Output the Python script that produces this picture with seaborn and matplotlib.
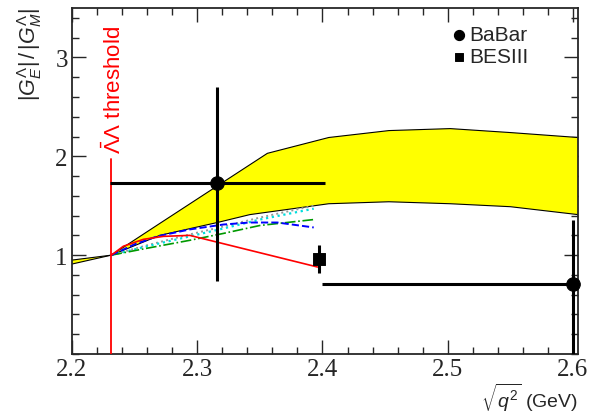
import numpy as np
import pandas as pd
import seaborn as sns
import matplotlib.pyplot as plt
from matplotlib.ticker import MultipleLocator

# threshold 2 m_Lambda
threshold = 2.2314

# yellow band (model prediction)
band_x_up = [2.2, 2.2314, 2.27, 2.316, 2.356, 2.405, 2.453, 2.502, 2.55, 2.604]
band_up = [0.95, 1.0, 1.32, 1.70, 2.03, 2.19, 2.26, 2.28, 2.24, 2.19]
band_x_lo = [2.2, 2.2314, 2.27, 2.316, 2.342, 2.405, 2.453, 2.502, 2.55, 2.604]
band_lo = [0.91, 1.0, 1.20, 1.33, 1.41, 1.52, 1.54, 1.52, 1.49, 1.41]

# other model curves
red_x = [2.2314, 2.241, 2.257, 2.273, 2.294, 2.396]
red_y = [1.0, 1.09, 1.16, 1.19, 1.20, 0.88]
blue_x = [2.2314, 2.25, 2.268, 2.294, 2.321, 2.342, 2.364, 2.393]
blue_y = [1.0, 1.11, 1.19, 1.26, 1.31, 1.33, 1.33, 1.28]
curve_x = [2.2314, 2.26, 2.294, 2.321, 2.35, 2.393]
green_y = [1.0, 1.07, 1.15, 1.22, 1.30, 1.36]
cyan_y = [1.0, 1.09, 1.19, 1.27, 1.36, 1.47]
gray_y = [1.0, 1.10, 1.21, 1.29, 1.38, 1.50]

# data
babar_x = [2.316, 2.6]
babar_y = [1.73, 0.71]
babar_xerr = [0.086, 0.2]
babar_yerr_lo = [0.99, 0.8]
babar_yerr_hi = [0.97, 0.65]
besiii_x = [2.397]
besiii_y = [0.96]
besiii_yerr = [0.14]

sns.set_style('ticks')
# tick labels serif (ROOT style), everything else sans
plt.rcParams['font.family'] = ['Liberation Serif', 'DejaVu Serif']
plt.rcParams['mathtext.fontset'] = 'custom'
plt.rcParams['mathtext.rm'] = 'Liberation Sans'
plt.rcParams['mathtext.it'] = 'Liberation Sans:italic'
plt.rcParams['mathtext.sf'] = 'Liberation Sans'
sans = ['Liberation Sans', 'DejaVu Sans']

fig = plt.figure(figsize=(5.94, 4.14), dpi=100)
ax = fig.add_axes([72 / 594, 59 / 414, 506 / 594, 346 / 414])

# band
ax.fill(band_x_up + band_x_lo[::-1], band_up + band_lo[::-1], color='yellow', lw=0, zorder=1)
sns.lineplot(x=band_x_up, y=band_up, color='black', lw=0.8, ax=ax, zorder=2)
sns.lineplot(x=band_x_lo, y=band_lo, color='black', lw=0.8, ax=ax, zorder=2)

# curves
sns.lineplot(x=curve_x, y=gray_y, color='#999999', lw=1.4, ls=':', ax=ax, zorder=3)
sns.lineplot(x=curve_x, y=cyan_y, color='#00dddd', lw=1.6, ls=':', ax=ax, zorder=3)
sns.lineplot(x=curve_x, y=green_y, color='#009900', lw=1.2, ls='-.', ax=ax, zorder=3)
sns.lineplot(x=blue_x, y=blue_y, color='#0000ff', lw=1.4, ls='--', ax=ax, zorder=3)
sns.lineplot(x=red_x, y=red_y, color='red', lw=1.2, ax=ax, zorder=3)

# threshold
ax.plot([threshold, threshold], [0, 1.97], color='red', lw=1.3, zorder=4)
ax.text(threshold + 0.0025, 2.03, r'$\bar{\Lambda}\Lambda$ threshold', rotation=90,
        color='red', fontsize=16, ha='center', va='bottom', family=sans)

# data points
ax.errorbar(babar_x, babar_y, xerr=babar_xerr, yerr=[babar_yerr_lo, babar_yerr_hi],
            fmt='none', ecolor='black', elinewidth=2.2, capsize=0, zorder=5, clip_on=True)
ax.errorbar(besiii_x, besiii_y, yerr=besiii_yerr, fmt='none', ecolor='black',
            elinewidth=2.2, capsize=0, zorder=5)
sns.scatterplot(x=babar_x, y=babar_y, marker='o', s=95, color='black', edgecolor='black',
                label='BaBar', ax=ax, zorder=6, clip_on=False)
sns.scatterplot(x=besiii_x, y=besiii_y, marker='s', s=70, color='black', edgecolor='black',
                label='BESIII', ax=ax, zorder=6)

leg = ax.legend(loc='upper left', bbox_to_anchor=(0.74, 0.975), frameon=False,
                prop={'family': sans, 'size': 15}, handlelength=0.4, handletextpad=0.3,
                labelspacing=0.15, borderaxespad=0, markerscale=0.75)

ax.set_xlim(2.2, 2.604)
ax.set_ylim(0, 3.5)
ax.xaxis.set_major_locator(MultipleLocator(0.1))
ax.xaxis.set_minor_locator(MultipleLocator(0.02))
ax.yaxis.set_major_locator(MultipleLocator(1))
ax.yaxis.set_minor_locator(MultipleLocator(0.2))
ax.set_xticks([2.2, 2.3, 2.4, 2.5, 2.6])
ax.set_xticklabels(['2.2', '2.3', '2.4', '2.5', '2.6'])
ax.set_yticks([1, 2, 3])
ax.set_yticklabels(['1', '2', '3'])
ax.tick_params(which='both', direction='in', top=True, right=True, width=1)
ax.tick_params(which='major', length=10, pad=3, labelsize=18)
ax.tick_params(which='minor', length=5)
for sp in ax.spines.values():
    sp.set_linewidth(1.3)

ax.set_xlabel(r'$\sqrt{q^2}$ (GeV)', fontsize=14, loc='right', labelpad=0, family=sans)
fig.text(30 / 594, 1 - 8 / 414, r'$|G_E^{\Lambda}|\,/\,|G_M^{\Lambda}|$', rotation=90,
         fontsize=15.5, ha='center', va='top', family=sans)

fig.savefig('out.png', dpi=100)
